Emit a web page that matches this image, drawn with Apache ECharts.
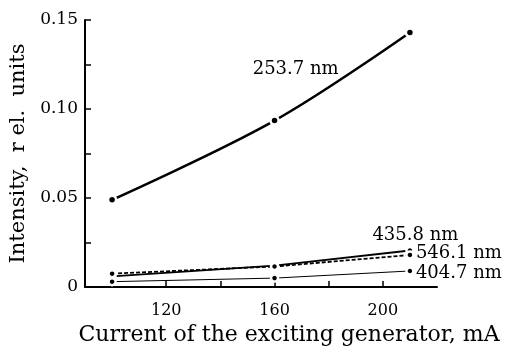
<!DOCTYPE html>
<html>
<head>
<meta charset="utf-8">
<script src="https://cdn.jsdelivr.net/npm/echarts@6/dist/echarts.min.js"></script>
<style>html,body{margin:0;padding:0;background:#fff}#c{width:507px;height:349px}</style>
</head>
<body>
<div id="c"></div>
<script>
var currents = [100, 160, 210];
var s2537 = [0.049, 0.0935, 0.143];
var s4358 = [0.006, 0.012, 0.0205];
var s5461 = [0.0075, 0.0115, 0.018];
var s4047 = [0.003, 0.005, 0.009];
var seriesNames = ['253.7 nm', '435.8 nm', '546.1 nm', '404.7 nm'];
var xTicks = [120, 140, 160, 180, 200];
var xLabels = [120, 160, 200];
var yLabels = [0, 0.05, 0.10, 0.15];

var FONT = 'DejaVu Serif';
function pairs(v){ return currents.map(function(c,i){ return [c, v[i]]; }); }
function lineSeries(name, vals, width, type, textCoord, align){
  return {
    name: name, type: 'line', data: pairs(vals), smooth: name === seriesNames[0] ? 0.35 : false,
    symbol: 'circle', symbolSize: width > 2 ? 8 : 7,
    lineStyle: {color: '#000', width: width, type: type},
    itemStyle: {color: '#000', borderColor: '#fff', borderWidth: 2.5},
    z: 3,
    markPoint: {
      symbol: 'circle', symbolSize: 1, itemStyle: {color: 'rgba(0,0,0,0)'},
      data: [{coord: textCoord, value: name}],
      label: {show: true, position: 'inside', align: align, verticalAlign: 'middle',
        formatter: name, color: '#000', fontFamily: FONT, fontSize: 18}
    }
  };
}
var chart = echarts.init(document.getElementById('c'), null, {renderer: 'canvas'});
chart.setOption({
  animation: false,
  backgroundColor: '#fff',
  grid: {left: 85, right: 70, top: 20, bottom: 62, containLabel: false, outerBoundsMode: 'none'},
  xAxis: {
    type: 'value', min: 90, max: 220,
    name: 'Current of the exciting generator, mA', nameLocation: 'middle', nameGap: 23,
    nameTextStyle: {fontFamily: FONT, fontSize: 22, color: '#000', padding: [0, 0, 0, 56]},
    axisLine: {lineStyle: {color: '#000', width: 2}},
    axisTick: {inside: true, length: 6, lineStyle: {color: '#000', width: 1.5}, customValues: xTicks},
    axisLabel: {customValues: xLabels, fontFamily: FONT, fontSize: 16, color: '#000', margin: 16},
    splitLine: {show: false}
  },
  yAxis: {
    type: 'value', min: 0, max: 0.15, interval: 0.025,
    name: 'Intensity,  r el.  units', nameLocation: 'middle', nameGap: 53,
    nameTextStyle: {fontFamily: FONT, fontSize: 21, color: '#000'},
    axisLine: {lineStyle: {color: '#000', width: 2}},
    axisTick: {inside: true, length: 6, lineStyle: {color: '#000', width: 1.5}},
    axisLabel: {customValues: yLabels, fontFamily: FONT, fontSize: 17, color: '#000', margin: 7,
      formatter: function(v){ return v === 0 ? '0' : v.toFixed(2); }},
    splitLine: {show: false}
  },
  series: [
    lineSeries(seriesNames[0], s2537, 2.5, 'solid', [167.8, 0.1225], 'center'),
    lineSeries(seriesNames[1], s4358, 1.8, 'solid', [212, 0.0292], 'center'),
    lineSeries(seriesNames[2], s5461, 1.8, [4, 2], [212.2, 0.0191], 'left'),
    lineSeries(seriesNames[3], s4047, 1, 'solid', [212.2, 0.0079], 'left')
  ]
});
</script>
</body>
</html>
